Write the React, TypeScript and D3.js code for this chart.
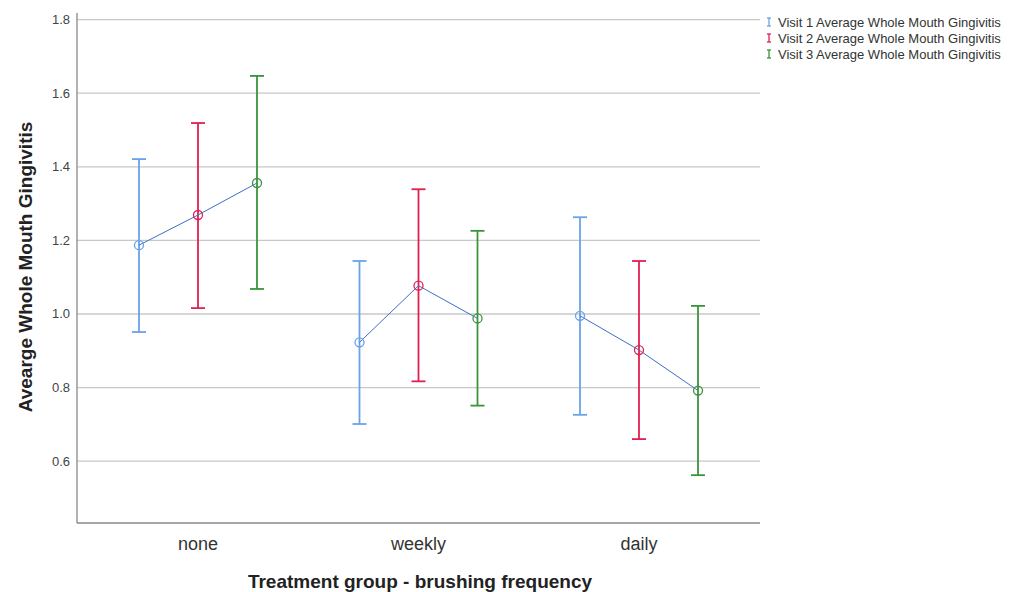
import React from "react";
import * as d3 from "d3";

const categories = ["none", "weekly", "daily"];
const seriesNames = [
  "Visit 1 Average Whole Mouth Gingivitis",
  "Visit 2 Average Whole Mouth Gingivitis",
  "Visit 3 Average Whole Mouth Gingivitis",
];
const seriesColors = ["#6aa2ea", "#e0204f", "#3a943a"];
const meanV1 = [1.187, 0.923, 0.995];
const meanV2 = [1.269, 1.077, 0.902];
const meanV3 = [1.356, 0.988, 0.792];
const lowV1 = [0.951, 0.701, 0.726];
const lowV2 = [1.016, 0.817, 0.66];
const lowV3 = [1.068, 0.751, 0.562];
const highV1 = [1.421, 1.144, 1.263];
const highV2 = [1.519, 1.339, 1.144];
const highV3 = [1.647, 1.226, 1.022];
const yTicks = [0.6, 0.8, 1.0, 1.2, 1.4, 1.6, 1.8];

const means = [meanV1, meanV2, meanV3];
const lows = [lowV1, lowV2, lowV3];
const highs = [highV1, highV2, highV3];

export default function App() {
  const W = 1015, H = 592;
  const left = 77, right = 760, top = 13, bottom = 523;
  const y = d3.scaleLinear().domain([0.432, 1.818]).range([bottom, top]);
  const x = d3.scalePoint().domain(categories).range([198, 639]);
  const offsets = d3.scalePoint().domain(["0", "1", "2"]).range([-59, 59]);
  const font = "'Liberation Sans', Arial, sans-serif";
  const cap = 7;

  const pts: { cx: number; cy: number }[] = [];
  categories.forEach((c, ci) => {
    for (let s = 0; s < 3; s++) {
      pts.push({ cx: (x(c) as number) + (offsets(String(s)) as number), cy: y(means[s][ci]) });
    }
  });
  const lineGen = d3.line<{ cx: number; cy: number }>().x((d) => d.cx).y((d) => d.cy);

  return (
    <svg width={W} height={H} style={{ position: "absolute", left: 0, top: 0, background: "#fff" }}>
      {yTicks.map((t) => (
        <line key={t} x1={left} x2={right} y1={y(t)} y2={y(t)} stroke="#c8c8c8" strokeWidth={1.3} />
      ))}
      <line x1={left} x2={left} y1={top} y2={bottom} stroke="#888" strokeWidth={1.3} />
      <line x1={left} x2={right} y1={bottom} y2={bottom} stroke="#888" strokeWidth={1.3} />
      {yTicks.map((t) => (
        <text key={"l" + t} x={left - 7} y={y(t) + 4.5} textAnchor="end" fontFamily={font} fontSize={13} fill="#444">
          {t.toFixed(1)}
        </text>
      ))}
      {categories.map((c) => (
        <text key={c} x={x(c) as number} y={550} textAnchor="middle" fontFamily={font} fontSize={18} fill="#333">
          {c}
        </text>
      ))}
      <text x={420} y={588} textAnchor="middle" fontFamily={font} fontSize={19} fontWeight="bold" fill="#222">
        Treatment group - brushing frequency
      </text>
      <text
        transform={`translate(32,267) rotate(-90)`}
        textAnchor="middle"
        fontFamily={font}
        fontSize={19}
        fontWeight="bold"
        fill="#222"
      >
        Avearge Whole Mouth Gingivitis
      </text>
      {categories.map((c, ci) =>
        [0, 1, 2].map((s) => {
          const cx = (x(c) as number) + (offsets(String(s)) as number);
          const col = seriesColors[s];
          return (
            <g key={c + s}>
              <line x1={cx} x2={cx} y1={y(lows[s][ci])} y2={y(highs[s][ci])} stroke={col} strokeWidth={1.8} />
              <line x1={cx - cap} x2={cx + cap} y1={y(lows[s][ci])} y2={y(lows[s][ci])} stroke={col} strokeWidth={1.8} />
              <line x1={cx - cap} x2={cx + cap} y1={y(highs[s][ci])} y2={y(highs[s][ci])} stroke={col} strokeWidth={1.8} />
            </g>
          );
        })
      )}
      {categories.map((c, ci) => (
        <path
          key={"ln" + c}
          d={lineGen(pts.slice(ci * 3, ci * 3 + 3)) || ""}
          fill="none"
          stroke="#3d6fc9"
          strokeWidth={1}
        />
      ))}
      {pts.map((p, i) => (
        <circle key={"c" + i} cx={p.cx} cy={p.cy} r={4.5} fill="none" stroke={seriesColors[i % 3]} strokeWidth={1.3} />
      ))}
      {seriesNames.map((n, i) => {
        const ly = 22 + i * 16;
        const col = seriesColors[i];
        return (
          <g key={n}>
            <line x1={769} x2={769} y1={ly - 4} y2={ly + 4} stroke={col} strokeWidth={1.3} />
            <line x1={767} x2={771} y1={ly - 4} y2={ly - 4} stroke={col} strokeWidth={1.3} />
            <line x1={767} x2={771} y1={ly + 4} y2={ly + 4} stroke={col} strokeWidth={1.3} />
            <text x={778} y={ly + 4.5} fontFamily={font} fontSize={13} fill="#333">
              {n}
            </text>
          </g>
        );
      })}
    </svg>
  );
}
